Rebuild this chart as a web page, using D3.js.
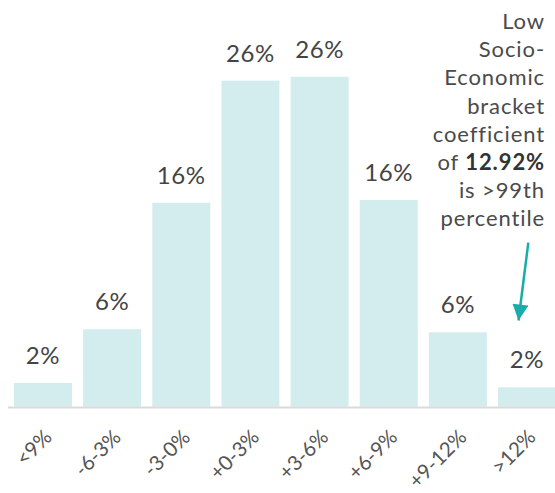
<!DOCTYPE html>
<html>
<head>
<meta charset="utf-8">
<script src="https://cdn.jsdelivr.net/npm/d3@7"></script>
<style>
  html, body { margin: 0; padding: 0; background: #fff; }
  svg { display: block; font-family: Lato, "Noto Sans", sans-serif; }
</style>
</head>
<body>
<svg id="chart" width="555" height="493"></svg>
<script>
const categories = ["<9%", "-6-3%", "-3-0%", "+0-3%", "+3-6%", "+6-9%", "+9-12%", ">12%"];
const shares = [1.87, 6.13, 16.17, 25.86, 26.17, 16.39, 5.89, 1.52];
const annotationLines = ["Low", "Socio-", "Economic", "bracket", "coefficient", "of |12.92%", "is >99th", "percentile"];

const W = 555, H = 493;
const baseline = 406.5;
const svg = d3.select("#chart");

const x = d3.scaleBand().domain(categories).range([8, 562]).paddingInner(0.161).paddingOuter(0.0868);
const y = d3.scaleLinear().domain([0, 30]).range([baseline, baseline - 378]);

const data = categories.map((c, i) => ({ c, v: shares[i] }));

svg.append("g").selectAll("rect").data(data).join("rect")
  .attr("x", d => x(d.c))
  .attr("y", d => y(d.v))
  .attr("width", x.bandwidth())
  .attr("height", d => y(0) - y(d.v))
  .attr("fill", "#d3ecee");

// baseline axis
const axis = d3.axisBottom(x).tickSize(0).tickPadding(0);
const gAxis = svg.append("g").attr("transform", `translate(0,${baseline})`).call(axis);
gAxis.select(".domain").attr("d", `M8,1H556`).attr("stroke", "#dadada").attr("stroke-width", 2);
gAxis.selectAll(".tick text")
  .attr("font-family", "Lato, sans-serif")
  .attr("font-size", 20.5)
  .attr("fill", "#555")
  .attr("text-anchor", "end")
  .attr("dy", 0)
  .attr("y", 0)
  .attr("transform", "translate(10,32) rotate(-45)");

// value labels
svg.append("g").selectAll("text").data(data).join("text")
  .attr("x", d => x(d.c) + x.bandwidth() / 2)
  .attr("y", d => y(d.v) - 19)
  .attr("text-anchor", "middle")
  .attr("font-size", 24)
  .attr("letter-spacing", 0.6)
  .attr("fill", "#444")
  .text(d => d3.format(".0f")(d.v) + "%");

// annotation
const ann = svg.append("text")
  .attr("text-anchor", "end")
  .attr("font-size", 22)
  .attr("letter-spacing", 0.9)
  .attr("fill", "#4a4a4a");
annotationLines.forEach((line, i) => {
  const t = ann.append("tspan").attr("x", 545).attr("y", 29 + i * 28.2);
  const parts = line.split("|");
  if (parts.length > 1) {
    t.text(parts[0]);
    ann.append("tspan").attr("font-weight", "bold").attr("fill", "#333").text(parts[1]);
  } else {
    t.text(line);
  }
});

// arrow
const defs = svg.append("defs");
defs.append("marker").attr("id", "ah").attr("viewBox", "0 0 10 10")
  .attr("refX", 10).attr("refY", 5).attr("markerUnits", "userSpaceOnUse")
  .attr("markerWidth", 18).attr("markerHeight", 16).attr("orient", "auto")
  .append("path").attr("d", "M0,0L10,5L0,10Z").attr("fill", "#19aca8");
svg.append("line")
  .attr("x1", 528.3).attr("y1", 242.7).attr("x2", 518.5).attr("y2", 320.5)
  .attr("stroke", "#19aca8").attr("stroke-width", 2.5)
  .attr("marker-end", "url(#ah)");
</script>
</body>
</html>
